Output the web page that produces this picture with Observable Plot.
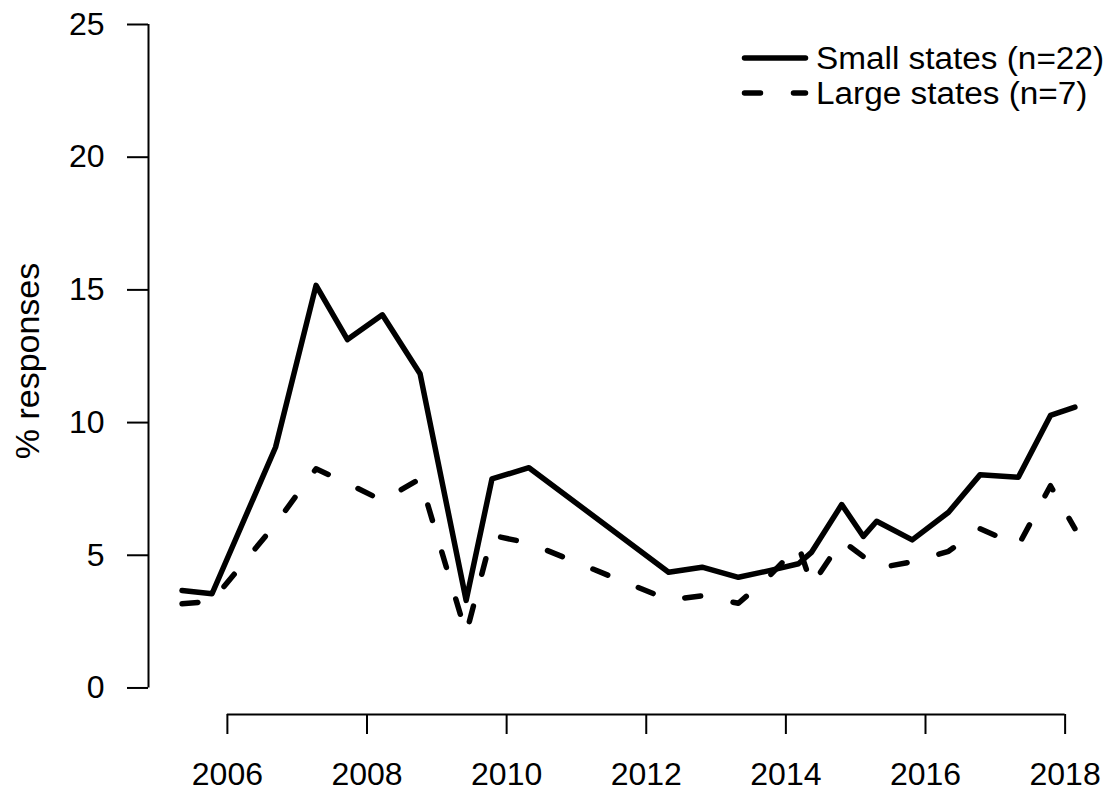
<!DOCTYPE html>
<html>
<head>
<meta charset="utf-8">
<script src="https://cdn.jsdelivr.net/npm/d3@7"></script>
<script src="https://cdn.jsdelivr.net/npm/@observablehq/plot@0.6"></script>
<style>
  html, body { margin: 0; padding: 0; background: #fff; }
  #wrap { position: relative; width: 1115px; height: 794px; font-family: "Liberation Sans", Arial, sans-serif; }
  #legend { position: absolute; left: 730px; top: 30px; }
</style>
</head>
<body>
<div id="wrap">
  <div id="chart"></div>
  <svg id="legend" width="385" height="90"></svg>
</div>
<script>
// Survey waves (decimal year)
const years = [2005.35, 2005.78, 2006.69, 2007.27, 2007.72, 2008.22, 2008.76, 2009.42, 2009.79, 2010.32,
               2012.32, 2012.80, 2013.32, 2013.78, 2014.18, 2014.37, 2014.80, 2015.11, 2015.30, 2015.81,
               2016.33, 2016.78, 2017.33, 2017.79, 2018.14];
// % responses, small states (n=22)
const smallStates = [3.67, 3.55, 9.07, 15.17, 13.13, 14.06, 11.84, 3.30, 7.88, 8.30,
                     4.36, 4.55, 4.17, 4.43, 4.68, 5.12, 6.91, 5.71, 6.28, 5.58,
                     6.62, 8.03, 7.94, 10.27, 10.58];
// % responses, large states (n=7)
const largeStates = [3.17, 3.27, 6.18, 8.26, 7.71, 7.06, 7.88, 2.04, 5.75, 5.46,
                     3.32, 3.47, 3.19, 4.26, 5.37, 3.86, 5.56, 4.95, 4.51, 4.75,
                     5.15, 6.00, 5.37, 7.62, 6.00];
const seriesNames = ["Small states (n=22)", "Large states (n=7)"];
const xTicks = [2006, 2008, 2010, 2012, 2014, 2016, 2018];
const yTicks = [0, 5, 10, 15, 20, 25];
const xDomain = [2004.87, 2018.65];
const yDomain = [-1, 25];
const yLabel = "% responses";

const small = years.map((x, i) => ({x, y: smallStates[i]}));
const large = years.map((x, i) => ({x, y: largeStates[i]}));

const FONT = 32;
const LEGEND_FONT = 31;
const LW = 5.5;
const DASH = "16,33";

const chart = Plot.plot({
  width: 1115,
  height: 794,
  marginLeft: 148,
  marginRight: 5,
  marginTop: 24,
  marginBottom: 80,
  style: {fontFamily: '"Liberation Sans", Arial, sans-serif', background: "white", color: "black"},
  x: {domain: xDomain},
  y: {domain: yDomain},
  marks: [
    Plot.axisX(xTicks, {anchor: "bottom", tickSize: 20, tickPadding: 28, fontSize: FONT, strokeWidth: 2, tickFormat: d => String(d), label: null}),
    Plot.axisY(yTicks, {anchor: "left", tickSize: 21, tickPadding: 23, fontSize: FONT, strokeWidth: 2, tickFormat: d => String(d), label: null}),
    Plot.ruleY([yDomain[0]], {x1: xTicks[0], x2: xTicks[xTicks.length - 1], stroke: "black", strokeWidth: 2}),
    Plot.ruleX([xDomain[0]], {y1: yTicks[0], y2: yTicks[yTicks.length - 1], stroke: "black", strokeWidth: 2}),
    Plot.line(large, {x: "x", y: "y", stroke: "black", strokeWidth: LW, strokeDasharray: DASH, strokeLinecap: "round", strokeLinejoin: "round"}),
    Plot.line(small, {x: "x", y: "y", stroke: "black", strokeWidth: LW, strokeLinecap: "round", strokeLinejoin: "round"})
  ]
});
document.getElementById("chart").appendChild(chart);

// y-axis title
const svg = d3.select(chart);
svg.append("text")
  .attr("transform", "translate(27,361) rotate(-90)")
  .attr("text-anchor", "middle")
  .attr("dominant-baseline", "central")
  .attr("font-size", 34)
  .attr("fill", "black")
  .text(yLabel);

// legend
const lg = d3.select("#legend");
const styles = [null, DASH];
const rowY = i => 28 + i * 35;
const lenScale = 1.075;
seriesNames.forEach((name, i) => {
  lg.append("line")
    .attr("x1", 14.5).attr("x2", 75.5).attr("y1", rowY(i)).attr("y2", rowY(i))
    .attr("stroke", "black").attr("stroke-width", LW).attr("stroke-linecap", "round")
    .attr("stroke-dasharray", styles[i]);
  const t = lg.append("text")
    .attr("x", 86).attr("y", rowY(i) + 0.36 * LEGEND_FONT)
    .attr("font-family", '"Liberation Sans", Arial, sans-serif')
    .attr("font-size", LEGEND_FONT)
    .attr("fill", "black")
    .text(name);
  const w = t.node().getComputedTextLength();
  t.attr("textLength", w * lenScale).attr("lengthAdjust", "spacingAndGlyphs");
});
</script>
</body>
</html>
